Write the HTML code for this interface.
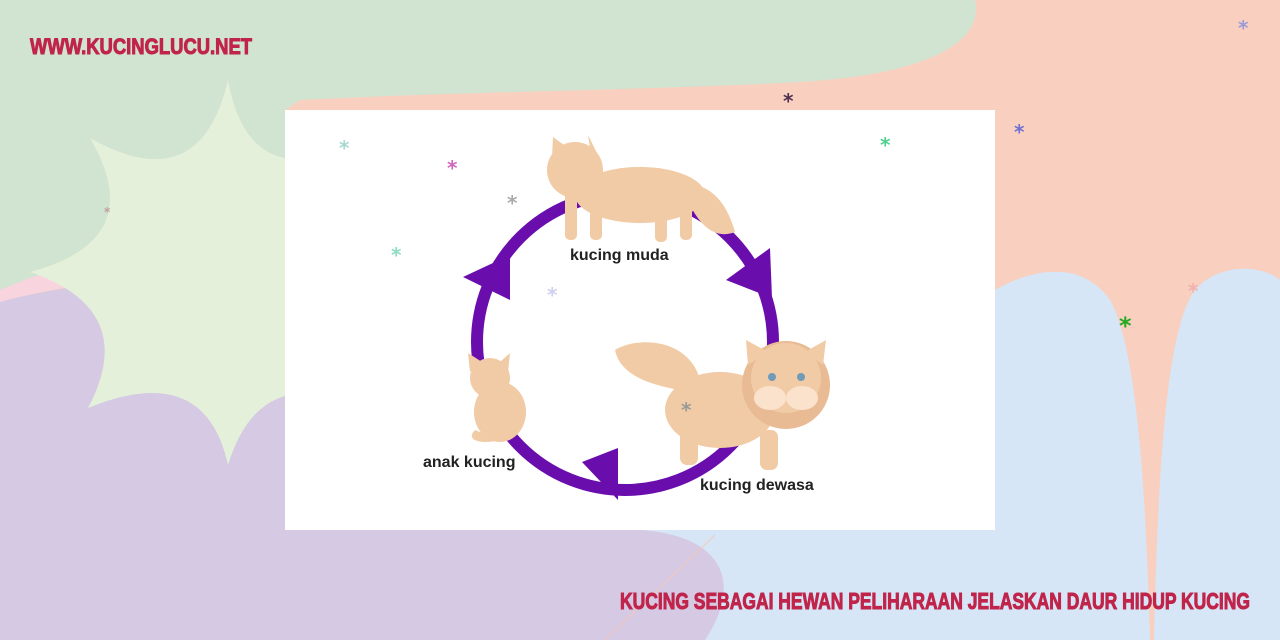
<!DOCTYPE html>
<html><head><meta charset="utf-8"><style>
html,body{margin:0;padding:0;width:1280px;height:640px;overflow:hidden;background:#f9d0c0}
svg{display:block}
</style></head><body>
<svg width="1280" height="640" viewBox="0 0 1280 640" xmlns="http://www.w3.org/2000/svg">
<rect width="1280" height="640" fill="#f9d0c0"/>
<!-- green -->
<path d="M0,0 H975 C985,45 920,75 800,82 C650,90 450,92 300,100 L285,110 L285,250 C200,240 100,250 0,290 Z" fill="#d1e3d1"/>
<!-- pink sliver -->
<path d="M0,290 C80,255 180,240 285,245 L285,275 C180,270 80,280 0,302 Z" fill="#f8d5de"/>
<!-- blue -->
<path d="M995,290 C1030,270 1080,258 1110,300 C1138,350 1146,500 1150,640 L1154,640 C1158,470 1166,330 1195,290 C1220,262 1262,265 1280,280 L1280,640 L640,640 L640,530 L995,530 Z" fill="#d6e6f6"/>
<!-- lavender -->
<path d="M0,302 C80,280 200,272 285,275 L285,530 L640,530 C720,535 745,580 705,640 L0,640 Z" fill="#d5c9e3"/>
<line x1="715" y1="535" x2="605" y2="640" stroke="#f4c8b8" stroke-width="1"/>
<!-- starburst -->
<path d="M228,80 Q250,200 365,138 Q320,230 430,272 Q320,300 365,408 Q260,360 228,465 Q205,360 88,408 Q140,310 30,272 Q150,240 90,138 Q200,200 228,80 Z" fill="#e4f0d9"/>
<!-- board -->
<rect x="285" y="110" width="710" height="420" fill="#ffffff"/>
<!-- cycle -->
<circle cx="625" cy="342" r="148" fill="none" stroke="#6a0dad" stroke-width="12"/>
<polygon points="463,277 510,255 510,300" fill="#6a0dad"/>
<polygon points="770,248 726,280 772,298" fill="#6a0dad"/>
<polygon points="582,462 618,448 618,500" fill="#6a0dad"/>
<!-- young cat -->
<g fill="#f1cba5">
<ellipse cx="640" cy="195" rx="65" ry="28"/>
<circle cx="575" cy="170" r="28"/>
<polygon points="552,158 553,137 568,148"/><polygon points="590,148 588,135 598,155"/>
<rect x="565" y="190" width="12" height="50" rx="5"/><rect x="590" y="195" width="12" height="45" rx="5"/>
<rect x="655" y="200" width="12" height="42" rx="5"/><rect x="680" y="195" width="12" height="45" rx="5"/>
<path d="M695,185 C720,190 730,215 735,232 C715,240 700,225 690,205 Z"/>
</g>
<!-- kitten -->
<g fill="#f1cba5">
<ellipse cx="500" cy="412" rx="26" ry="30"/>
<circle cx="490" cy="378" r="20"/>
<polygon points="470,372 468,353 482,362"/><polygon points="500,362 510,353 508,372"/>
<path d="M475,430 C465,440 480,445 500,440 Z"/>
</g>
<!-- adult cat -->
<g fill="#f1cba5">
<path d="M615,350 C640,335 690,340 700,380 L680,390 C650,385 620,375 615,350 Z"/>
<ellipse cx="720" cy="410" rx="55" ry="38"/>
<rect x="680" y="420" width="18" height="45" rx="7"/><rect x="760" y="430" width="18" height="40" rx="7"/>
<circle cx="786" cy="385" r="44" fill="#e8bb94"/>
<circle cx="786" cy="378" r="35"/>
<polygon points="748,365 746,340 768,352"/><polygon points="805,352 826,340 823,365"/>
<ellipse cx="770" cy="398" rx="16" ry="12" fill="#fbe2cc"/><ellipse cx="802" cy="398" rx="16" ry="12" fill="#fbe2cc"/>
<circle cx="772" cy="377" r="4" fill="#6f9ab8"/><circle cx="801" cy="377" r="4" fill="#6f9ab8"/>
</g>
<g font-family="Liberation Sans, sans-serif" font-weight="bold" font-size="16" fill="#222">
<text x="570" y="260">kucing muda</text>
<text x="423" y="467">anak kucing</text>
<text x="700" y="490">kucing dewasa</text>
</g>
<!-- small stars -->
<g font-family="DejaVu Sans, sans-serif" font-weight="bold" font-size="20">
<text x="339" y="155" fill="#a8d8d0">*</text>
<text x="447" y="175" fill="#d066c0">*</text>
<text x="507" y="210" fill="#aaa">*</text>
<text x="391" y="262" fill="#8fdcc0">*</text>
<text x="547" y="302" fill="#cfd0f0">*</text>
<text x="681" y="417" fill="#999">*</text>
<text x="880" y="152" fill="#4fd090">*</text>
<text x="783" y="108" fill="#503050">*</text>
<text x="1014" y="139" fill="#7070d0">*</text>
<text x="1238" y="35" fill="#9a9ad8">*</text>
<text x="1119" y="334" fill="#22aa22" font-size="24">*</text>
<text x="1188" y="298" fill="#f0b0b0">*</text>
<text x="104" y="216" fill="#c0a0a0" font-size="12">*</text>
</g>
<!-- titles -->
<g font-family="'Liberation Sans Narrow','Liberation Sans',sans-serif" font-weight="bold" fill="#c0244a" stroke="#c0244a" stroke-width="1">
<text x="30" y="54" font-size="22" textLength="222" lengthAdjust="spacingAndGlyphs">WWW.KUCINGLUCU.NET</text>
<text x="620" y="609" font-size="23" textLength="630" lengthAdjust="spacingAndGlyphs">KUCING SEBAGAI HEWAN PELIHARAAN JELASKAN DAUR HIDUP KUCING</text>
</g>
</svg>
</body></html>
